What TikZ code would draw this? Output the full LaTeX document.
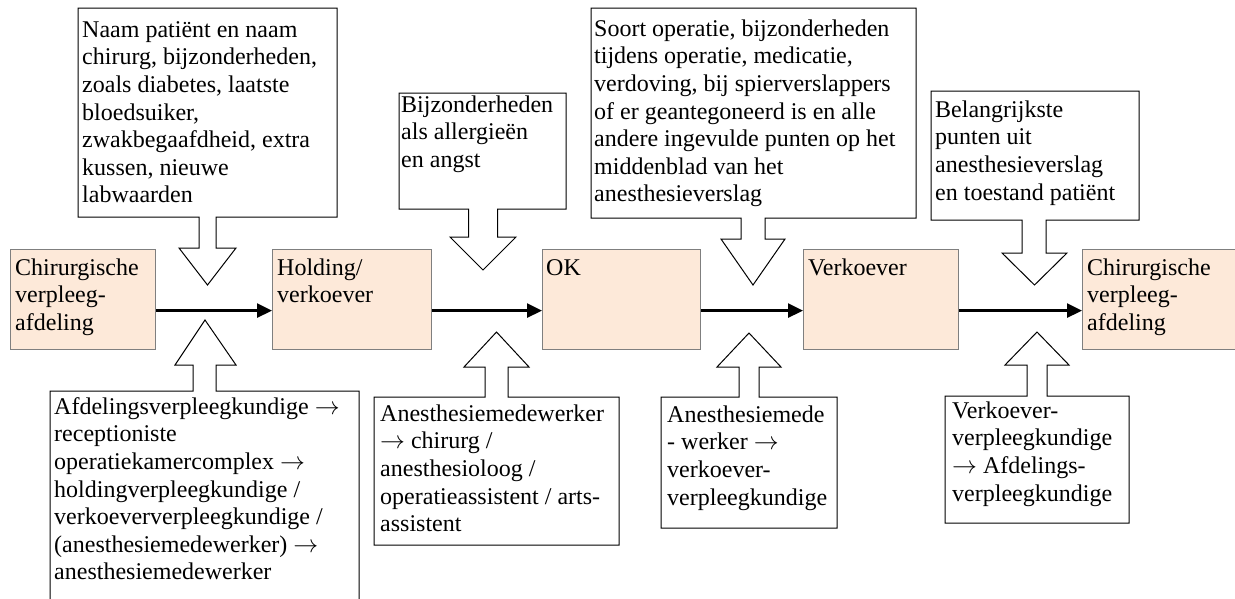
\documentclass[tikz,border=0pt]{standalone}
\usepackage{fontspec}
\setmainfont{Liberation Serif}
\usetikzlibrary{arrows.meta}
\definecolor{peach}{HTML}{FDE9D9}
\definecolor{boxline}{HTML}{7F7F7F}
\newcommand{\ra}{$\rightarrow$}
\begin{document}
\begin{tikzpicture}[x=1pt,y=-1pt,
  txt/.style={anchor=north west, inner sep=0pt, align=left, font=\fontsize{24}{27.6}\selectfont},
  proc/.style={draw=boxline, fill=peach, line width=1.2pt, anchor=north west, inner sep=0pt, minimum height=100pt},
  callout/.style={draw=black, fill=white, line width=1pt, line join=miter},
  flow/.style={line width=2.5pt, -{Triangle[length=15pt,width=14pt]}}]
\useasboundingbox (0,0) rectangle (1235,598);
\fill[white] (0,0) rectangle (1235,598);
\clip (0,0) rectangle (1235,598);

% process boxes
\node[proc, minimum width=145pt] (p1) at (10,249) {};
\node[proc, minimum width=159pt] (p2) at (272,249) {};
\node[proc, minimum width=158pt] (p3) at (542,249) {};
\node[proc, minimum width=155pt] (p4) at (803,249) {};
\node[proc, minimum width=170pt] (p5) at (1082,249) {};

\node[txt] (p1t) at (15,255.7) {\strut Chirurgische\\verpleeg-\\afdeling};
\node[txt] (p2t) at (277,255.7) {\strut Holding/\\verkoever};
\node[txt] (p3t) at (546,255.7) {\strut OK};
\node[txt] (p4t) at (808,255.7) {\strut Verkoever};
\node[txt] (p5t) at (1087,255.7) {\strut Chirurgische\\verpleeg-\\afdeling};

% flow arrows
\draw[flow] ([yshift=-11pt]p1.east) -- ([yshift=-11pt]p2.west);
\draw[flow] ([yshift=-11pt]p2.east) -- ([yshift=-11pt]p3.west);
\draw[flow] ([yshift=-11pt]p3.east) -- ([yshift=-11pt]p4.west);
\draw[flow] ([yshift=-11pt]p4.east) -- ([yshift=-11pt]p5.west);

% top callouts
\draw[callout] (78,8) -- (337,8) -- (337,217) -- (216,217) -- (216,248) -- (236,248) -- (207.5,285) -- (179,248) -- (199,248) -- (199,217) -- (78,217) -- cycle;
\draw[callout] (399,93) -- (566,93) -- (566,209) -- (497.5,209) -- (497.5,237) -- (516,237) -- (483,270) -- (450,237) -- (468.5,237) -- (468.5,209) -- (399,209) -- cycle;
\draw[callout] (591,8) -- (916,8) -- (916,218) -- (765,218) -- (765,239) -- (785,239) -- (753,285) -- (721,239) -- (741,239) -- (741,218) -- (591,218) -- cycle;
\draw[callout] (931,91) -- (1139,91) -- (1139,220) -- (1046,220) -- (1046,253) -- (1067,253) -- (1034.5,285) -- (1002,253) -- (1022,253) -- (1022,220) -- (931,220) -- cycle;

\node[txt] (c1) at (82,17.7) {\strut Naam patiënt en naam\\chirurg, bijzonderheden,\\zoals diabetes, laatste\\bloedsuiker,\\zwakbegaafdheid, extra\\kussen, nieuwe\\labwaarden};
\node[txt] (c2) at (401,92.7) {\strut Bijzonderheden\\als allergieën\\en angst};
\node[txt] (c3) at (594,16.7) {\strut Soort operatie, bijzonderheden\\tijdens operatie, medicatie,\\verdoving, bij spierverslappers\\of er geantegoneerd is en alle\\andere ingevulde punten op het\\middenblad van het\\anesthesieverslag};
\node[txt] (c4) at (935,97.7) {\strut Belangrijkste\\punten uit\\anesthesieverslag\\en toestand patiënt};

% bottom callouts
\draw[callout] (50,391) -- (193,391) -- (193,365) -- (175,365) -- (205,320) -- (236,365) -- (216,365) -- (216,391) -- (359,391) -- (359,610) -- (50,610) -- cycle;
\draw[callout] (374,397) -- (485,397) -- (485,367) -- (464,367) -- (496.5,332) -- (529,367) -- (508,367) -- (508,397) -- (619,397) -- (619,545) -- (374,545) -- cycle;
\draw[callout] (661,397) -- (739,397) -- (739,367) -- (717,367) -- (749,333) -- (781,367) -- (759,367) -- (759,397) -- (837,397) -- (837,528) -- (661,528) -- cycle;
\draw[callout] (945,396) -- (1027,396) -- (1027,365) -- (1005,365) -- (1037,332) -- (1069,365) -- (1047,365) -- (1047,396) -- (1129,396) -- (1129,523) -- (945,523) -- cycle;

\node[txt] (c5) at (54,394.7) {\strut Afdelingsverpleegkundige \ra\\receptioniste\\operatiekamercomplex \ra\\holdingverpleegkundige /\\verkoeververpleegkundige /\\(anesthesiemedewerker) \ra\\anesthesiemedewerker};
\node[txt] (c6) at (380,401.7) {\strut Anesthesiemedewerker\\\ra{} chirurg /\\anesthesioloog /\\operatieassistent / arts-\\assistent};
\node[txt] (c7) at (667,402.7) {\strut Anesthesiemede\\- werker \ra\\verkoever-\\verpleegkundige};
\node[txt] (c8) at (952,398.7) {\strut Verkoever-\\verpleegkundige\\\ra{} Afdelings-\\verpleegkundige};
\end{tikzpicture}
\end{document}
